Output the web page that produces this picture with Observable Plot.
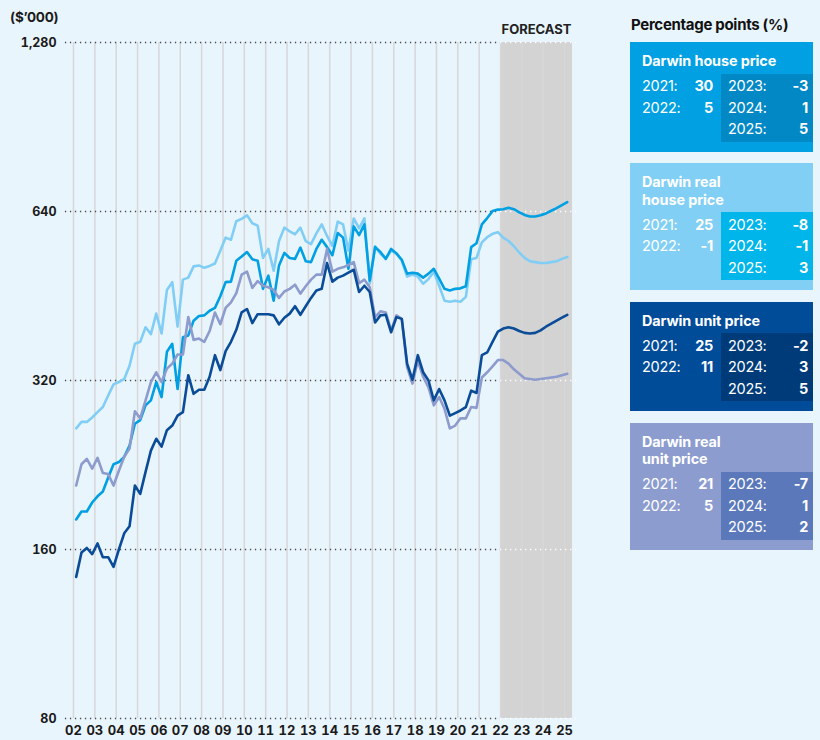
<!DOCTYPE html>
<html>
<head>
<meta charset="utf-8">
<script src="https://cdn.jsdelivr.net/npm/d3@7"></script>
<script src="https://cdn.jsdelivr.net/npm/@observablehq/plot@0.6"></script>
<style>
html,body{margin:0;padding:0;background:#e9f5fd;}
body{width:820px;height:740px;position:relative;overflow:hidden;font-family:Inter,"Noto Sans",sans-serif;}
#chart{position:absolute;left:0;top:0;}
#unit{position:absolute;left:10px;top:9px;font-size:13.5px;font-weight:700;color:#1b1b1b;letter-spacing:-0.2px;}
#legend-title{position:absolute;left:631px;top:15px;font-size:15px;font-weight:700;color:#111;letter-spacing:-0.3px;}
#legend{position:absolute;left:630px;top:42px;width:183px;display:flex;flex-direction:column;gap:11.5px;}
.box{position:relative;width:183px;color:#fff;}
.box .t{padding:10px 0 0 12px;font-size:14.4px;font-weight:700;line-height:17.5px;letter-spacing:-0.1px;}
.box .body{position:relative;margin-top:4px;height:68px;margin-bottom:10px;}
.box .left{position:absolute;left:12px;top:1.5px;width:71px;}
.box .inner{position:absolute;left:91px;top:0;width:92px;height:68px;box-sizing:border-box;padding:1.5px 5px 0 7px;}
.row{display:flex;justify-content:space-between;font-size:14.5px;line-height:21.7px;letter-spacing:-0.3px;}
.row .y{font-weight:400;}
.row .v{font-weight:700;}
</style>
</head>
<body>
<div id="unit">($’000)</div>
<div id="chart"></div>
<div id="legend-title">Percentage points (%)</div>
<div id="legend"></div>
<script>
// ---- Data (quarterly, $'000), first quarter 2002 Q1, last points are forecasts ----
const firstQuarter = 2002.125;
const forecastStart = 2022;
const xEnd = 2025.37;
const yearTicks = d3.range(2002, 2026);
const yTicks = [80, 160, 320, 640, 1280];

const housePrice = [
  181,187,187,194,199,203,215,227,229,234,245,268,272,289,295,318,299,360,372,309,382,385,409,417,418,
  426,431,452,479,480,523,532,542,526,523,466,492,444,513,540,529,527,552,522,520,549,570,553,535,
  586,575,506,602,581,607,482,553,542,527,549,539,525,496,498,496,488,496,506,486,466,463,466,467,471,
  553,562,607,623,641,645,
  646,650,646,638,631,627,627,630,635,642,649,657,665
];
const realHousePrice = [
  263,270,270,275,281,287,301,315,318,322,340,372,375,398,387,421,388,464,479,399,484,488,511,513,508,
  512,517,545,575,570,615,621,630,610,604,529,549,502,567,599,590,583,599,567,560,585,607,579,556,
  614,607,545,622,597,622,476,555,538,528,545,538,523,490,494,490,476,485,500,472,444,442,444,442,451,
  526,529,564,576,584,588,
  575,567,555,541,529,522,520,518,518,520,522,527,531
];
const unitPrice = [
  143,158,161,157,164,155,155,149,160,171,176,208,201,220,240,252,244,261,266,277,281,327,303,308,308,
  325,355,334,361,375,394,423,429,405,420,420,420,418,403,414,421,434,419,434,449,463,466,518,480,
  488,492,498,504,460,472,460,406,418,419,390,415,412,343,321,355,331,320,295,309,295,277,280,283,287,
  307,304,355,359,375,391,
  396,398,396,392,389,388,389,393,399,404,409,414,419
];
const realUnitPrice = [
  208,227,232,223,233,219,218,208,221,234,242,282,274,295,318,331,318,336,343,356,356,415,378,380,375,
  392,423,403,431,441,458,494,500,468,481,472,469,464,449,461,466,474,457,471,484,494,494,549,500,
  506,509,514,520,477,484,469,415,425,423,393,418,412,338,316,347,325,311,289,299,285,263,266,274,274,
  287,286,324,331,339,348,
  348,343,335,329,323,322,321,322,323,324,325,327,329
];

// ---- Legend data ----
const legendTitles = [["Darwin house price"], ["Darwin real", "house price"], ["Darwin unit price"], ["Darwin real", "unit price"]];
const growth2021 = [30, 25, 25, 21];
const growth2022 = [5, -1, 11, 5];
const growth2023 = [-3, -8, -2, -7];
const growth2024 = [1, -1, 3, 1];
const growth2025 = [5, 3, 5, 2];

// ---- Styles ----
const lineColors = ["#00a0e3", "#80cef5", "#0a4c98", "#8d9bcd"];
const boxColors = ["#00a0e3", "#82cff5", "#004c98", "#8c9ccf"];
const innerColors = ["#0388c6", "#00b5ea", "#003b79", "#5a78ba"];

const series = [
  {values: realHousePrice, color: lineColors[1]},
  {values: housePrice, color: lineColors[0]},
  {values: realUnitPrice, color: lineColors[3]},
  {values: unitPrice, color: lineColors[2]}
];
const qTime = (d, i) => firstQuarter + i * 0.25;

const chart = Plot.plot({
  width: 600,
  height: 740,
  marginLeft: 73,
  marginRight: 28,
  marginTop: 42,
  marginBottom: 22,
  style: {background: "transparent", fontFamily: "Inter, 'Noto Sans', sans-serif", overflow: "visible"},
  x: {domain: [2002, xEnd], axis: null},
  y: {type: "log", domain: [yTicks[0], yTicks[yTicks.length - 1]], axis: null},
  marks: [
    Plot.rect([{start: forecastStart, end: xEnd}], {
      x1: "start", x2: "end",
      y1: () => yTicks[0], y2: () => yTicks[yTicks.length - 1],
      fill: "#d3d3d3"
    }),
    Plot.ruleX(yearTicks, {stroke: "#d7d7d7", strokeWidth: 1.5}),
    Plot.ruleY(yTicks, {x1: () => 2002 - 0.38, x2: () => forecastStart, stroke: "#4a4a4a", strokeWidth: 1.3, strokeDasharray: "1.3,3.7"}),
    Plot.ruleY(yTicks, {x1: () => forecastStart, x2: () => xEnd + 0.28, stroke: "#ffffff", strokeWidth: 1.3, strokeDasharray: "1.3,3.7"}),
    ...series.map(s => Plot.line(s.values, {x: qTime, y: d => d, stroke: s.color, strokeWidth: 2.6, strokeLinejoin: "round"})),
    Plot.axisX(yearTicks, {tickSize: 0, tickPadding: 7, tickFormat: d => String(d).slice(2), fontSize: 13, fontWeight: 700, fill: "#1a1a1a", label: null}),
    Plot.axisY(yTicks, {tickSize: 0, tickPadding: 17, tickFormat: d3.format(","), fontSize: 12.5, fontWeight: 700, fill: "#1a1a1a", label: null}),
    Plot.text(["FORECAST"], {x: () => (forecastStart + xEnd) / 2, y: () => yTicks[yTicks.length - 1], dy: -13, fontSize: 13, fontWeight: 700, fill: "#222", text: d => d})
  ]
});
document.getElementById("chart").appendChild(chart);

// ---- Legend ----
const legend = document.getElementById("legend");
legendTitles.forEach((lines, k) => {
  const box = document.createElement("div");
  box.className = "box";
  box.style.background = boxColors[k];
  const row = (y, v) => `<div class="row"><span class="y">${y}:</span><span class="v">${v}</span></div>`;
  box.innerHTML =
    `<div class="t">${lines.map(l => `<div>${l}</div>`).join("")}</div>` +
    `<div class="body">` +
      `<div class="left">${row(2021, growth2021[k])}${row(2022, growth2022[k])}</div>` +
      `<div class="inner" style="background:${innerColors[k]}">${row(2023, growth2023[k])}${row(2024, growth2024[k])}${row(2025, growth2025[k])}</div>` +
    `</div>`;
  legend.appendChild(box);
});
</script>
</body>
</html>
